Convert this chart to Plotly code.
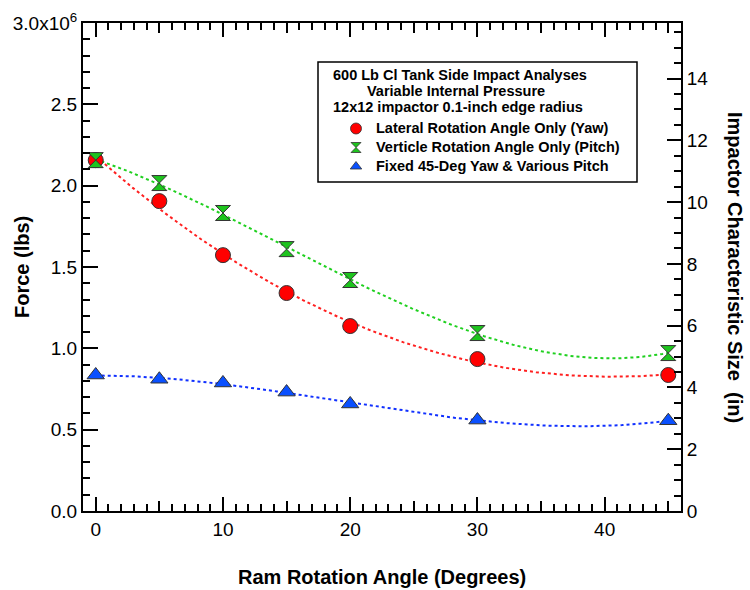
import numpy as np
import plotly.graph_objects as go

angles = [0, 5, 10, 15, 20, 30, 45]
yaw_force = [2.157e6, 1.905e6, 1.573e6, 1.34e6, 1.137e6, 0.934e6, 0.836e6]
pitch_force = [2.157e6, 2.016e6, 1.832e6, 1.61e6, 1.42e6, 1.094e6, 0.971e6]
fixed_force = [0.836e6, 0.81e6, 0.787e6, 0.731e6, 0.658e6, 0.559e6, 0.555e6]

names = ["Lateral Rotation Angle Only (Yaw)",
         "Verticle Rotation Angle Only (Pitch)",
         "Fixed 45-Deg Yaw & Various Pitch"]
legend_title_lines = ["600 Lb Cl Tank Side Impact Analyses",
                      "Variable Internal Pressure",
                      "12x12 impactor 0.1-inch edge radius"]
left_ticks = [0, 0.5e6, 1.0e6, 1.5e6, 2.0e6, 2.5e6, 3.0e6]
left_text = ["0.0", "0.5", "1.0", "1.5", "2.0", "2.5", "3.0x10<sup>6</sup>"]
right_ticks = [0, 2, 4, 6, 8, 10, 12, 14]
x_ticks = [0, 10, 20, 30, 40]
x_mid_ticks = [5, 15, 25, 35, 45]

series = [
    (yaw_force, "#ff0000", "#ff2020", "circle", 11),
    (pitch_force, "#1ec41e", "#20d020", "hourglass", 10),
    (fixed_force, "#0a50ff", "#1030ff", "triangle-up", 10),
]

FONT = "Liberation Sans, Arial, sans-serif"
fig = go.Figure()
xf = np.linspace(0, 45, 200)
for vals, mc, lc, sym, ls in series:
    coef = np.polyfit(angles, vals, 3)
    fig.add_trace(go.Scatter(x=xf, y=np.polyval(coef, xf), mode="lines",
                             line=dict(color=lc, width=2, dash="dot"),
                             showlegend=False, hoverinfo="skip"))
for (vals, mc, lc, sym, ls), nm in zip(series, names):
    fig.add_trace(go.Scatter(x=angles, y=vals, mode="markers", name=nm,
                             showlegend=False,
                             marker=dict(symbol=sym, size=15, color=mc,
                                         line=dict(color="#333333", width=1))))
# legend-only proxies (smaller legend keys, tighter rows like the reference)
for (vals, mc, lc, sym, ls), nm in zip(series, names):
    fig.add_trace(go.Scatter(x=[None], y=[None], mode="markers",
                             name='<span style="font-size:14.5px">' + nm + "</span>",
                             marker=dict(symbol=sym, size=ls, color=mc,
                                         line=dict(color="#333333", width=0.8))))
# empty traces so the secondary axes get drawn
fig.add_trace(go.Scatter(x=[], y=[], yaxis="y2", showlegend=False, hoverinfo="skip"))
fig.add_trace(go.Scatter(x=[], y=[], xaxis="x2", showlegend=False, hoverinfo="skip"))

tick_common = dict(ticks="inside", tickwidth=1.5, tickcolor="black",
                   showgrid=False, zeroline=False, automargin=False)

# plot-area geometry (pixels) used to place the legend box
L, R, T, B = 83, 681, 23, 511
def px(x):
    return (x - L) / (R - L)
def py(y):
    return (B - y) / (B - T)

annotations = [
    dict(text="<b>Force (lbs)</b>", x=0, y=0.5, xref="paper", yref="paper",
         xanchor="center", yanchor="middle", xshift=-61,
         showarrow=False, textangle=-90, font=dict(size=20)),
    dict(text="<b>Impactor Characteristic Size  (in)</b>", x=1.0, y=0.5,
         xref="paper", yref="paper", xanchor="center", yanchor="middle",
         showarrow=False, textangle=90, xshift=54, font=dict(size=20)),
    dict(text="<b>Ram Rotation Angle (Degrees)</b>", x=0.5, y=0,
         xref="paper", yref="paper", xanchor="center", yanchor="middle",
         showarrow=False, yshift=-66, font=dict(size=20)),
]
for line, lx, ly in zip(legend_title_lines, [331, 365, 331], [75, 91, 107]):
    annotations.append(dict(text=line, x=px(lx), y=py(ly), xref="paper", yref="paper",
                            xanchor="left", yanchor="middle", showarrow=False,
                            font=dict(size=14.5, weight="bold")))

fig.update_layout(
    width=750, height=590,
    margin=dict(l=L, r=750 - R, t=T, b=590 - B),
    plot_bgcolor="white", paper_bgcolor="white",
    font=dict(family=FONT, size=19, color="black"),
    xaxis=dict(range=[-1, 46], tickvals=x_ticks, ticklen=14,
               minor=dict(dtick=1, ticks="inside", ticklen=7, tickwidth=1.5, tickcolor="black"),
               showline=True, linecolor="black", linewidth=2, mirror="ticks",
               **tick_common),
    xaxis2=dict(range=[-1, 46], overlaying="x", anchor="y", tickvals=x_mid_ticks,
                ticklen=10, showticklabels=False, showline=False, mirror="ticks",
                **tick_common),
    yaxis=dict(range=[0, 3.0e6], tickvals=left_ticks, ticktext=left_text, ticklen=15,
               minor=dict(dtick=0.1e6, ticks="inside", ticklen=7, tickwidth=1.5, tickcolor="black"),
               showline=True, linecolor="black", linewidth=2,
               **tick_common),
    yaxis2=dict(range=[0, 15.8], overlaying="y", side="right", anchor="x",
                tickvals=right_ticks, ticklen=14,
                minor=dict(dtick=0.5, ticks="inside", ticklen=7, tickwidth=1.5, tickcolor="black"),
                showline=True, linecolor="black", linewidth=2,
                **tick_common),
    legend=dict(x=px(318), y=py(114), xanchor="left", yanchor="top",
                bgcolor="rgba(0,0,0,0)", borderwidth=0,
                font=dict(family=FONT, size=11, weight="bold"),
                indentation=18, tracegroupgap=0, itemwidth=30),
    shapes=[dict(type="rect", xref="paper", yref="paper",
                 x0=px(318), x1=px(637), y0=py(182), y1=py(62),
                 line=dict(color="black", width=1.5), fillcolor="white", layer="below")],
    annotations=annotations,
)
fig.write_html("out.html")
